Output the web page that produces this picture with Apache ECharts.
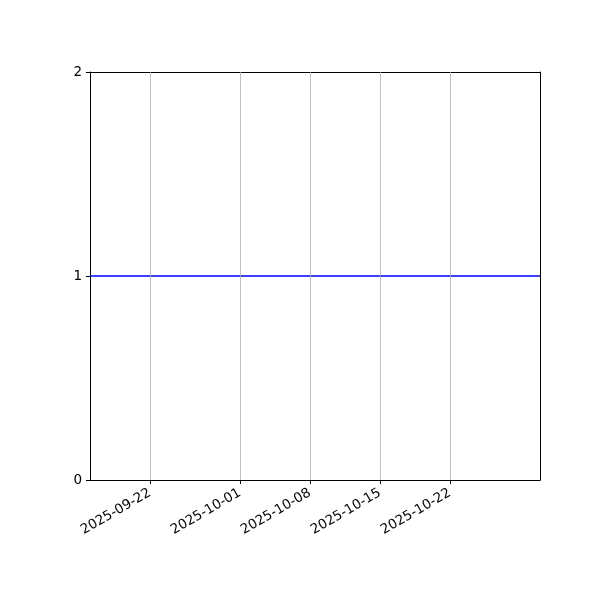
<!DOCTYPE html>
<html>
<head>
<meta charset="utf-8">
<script src="https://cdn.jsdelivr.net/npm/echarts@6/dist/echarts.min.js"></script>
<style>html,body{margin:0;padding:0;background:#fff}#c{width:600px;height:600px}</style>
</head>
<body>
<div id="c"></div>
<script>
const xRange = ['2025-09-16', '2025-10-31'];
const lineDates = ['2025-09-16', '2025-10-31'];
const lineValues = [1, 1];
const xTickDates = ['2025-09-22', '2025-10-01', '2025-10-08', '2025-10-15', '2025-10-22'];
const yTicks = [0, 1, 2];

function ts(d) { const p = d.split('-').map(Number); return Date.UTC(p[0], p[1] - 1, p[2]); }
function fmt(v) { const d = new Date(v); const m = String(d.getUTCMonth() + 1).padStart(2, '0'); const dd = String(d.getUTCDate()).padStart(2, '0'); return d.getUTCFullYear() + '-' + m + '-' + dd; }

const font = 'DejaVu Sans';
const chart = echarts.init(document.getElementById('c'), null, { renderer: 'canvas' });
chart.setOption({
  animation: false,
  grid: { left: 90, right: 60, top: 72, bottom: 120, show: false },
  xAxis: [{
    type: 'value', position: 'bottom',
    min: ts(xRange[0]), max: ts(xRange[1]),
    axisLine: { show: true, onZero: false, lineStyle: { color: '#000', width: 1 } },
    axisTick: { show: true, length: 4, lineStyle: { color: '#000' }, customValues: xTickDates.map(ts) },
    axisLabel: { customValues: xTickDates.map(ts), formatter: v => fmt(v), rotate: 30, color: '#000', fontFamily: font, fontSize: 13.5, margin: 12 },
    splitLine: { show: false }
  }, {
    type: 'value', position: 'top',
    min: ts(xRange[0]), max: ts(xRange[1]),
    axisLine: { show: true, onZero: false, lineStyle: { color: '#000', width: 1 } },
    axisTick: { show: false }, axisLabel: { show: false }, splitLine: { show: false }
  }],
  yAxis: [{
    type: 'value', position: 'left', min: yTicks[0], max: yTicks[yTicks.length - 1], interval: 1,
    axisLine: { show: true, onZero: false, lineStyle: { color: '#000', width: 1 } },
    axisTick: { show: true, length: 4, lineStyle: { color: '#000' } },
    axisLabel: { color: '#000', fontFamily: font, fontSize: 13.5, margin: 8 },
    splitLine: { show: false }
  }, {
    type: 'value', position: 'right', min: yTicks[0], max: yTicks[yTicks.length - 1], interval: 1,
    axisLine: { show: true, onZero: false, lineStyle: { color: '#000', width: 1 } },
    axisTick: { show: false }, axisLabel: { show: false }, splitLine: { show: false }
  }],
  series: [
    {
      type: 'line', data: [], silent: true,
      markLine: {
        silent: true, symbol: ['none', 'none'], label: { show: false },
        lineStyle: { color: '#b0b0b0', width: 0.8, type: 'solid' },
        data: xTickDates.map(d => ({ xAxis: ts(d) }))
      }
    },
    {
      type: 'line', showSymbol: false, symbol: 'none',
      lineStyle: { color: '#0000ff', width: 1.5 },
      data: lineDates.map((d, i) => [ts(d), lineValues[i]])
    }
  ]
});
</script>
</body>
</html>
